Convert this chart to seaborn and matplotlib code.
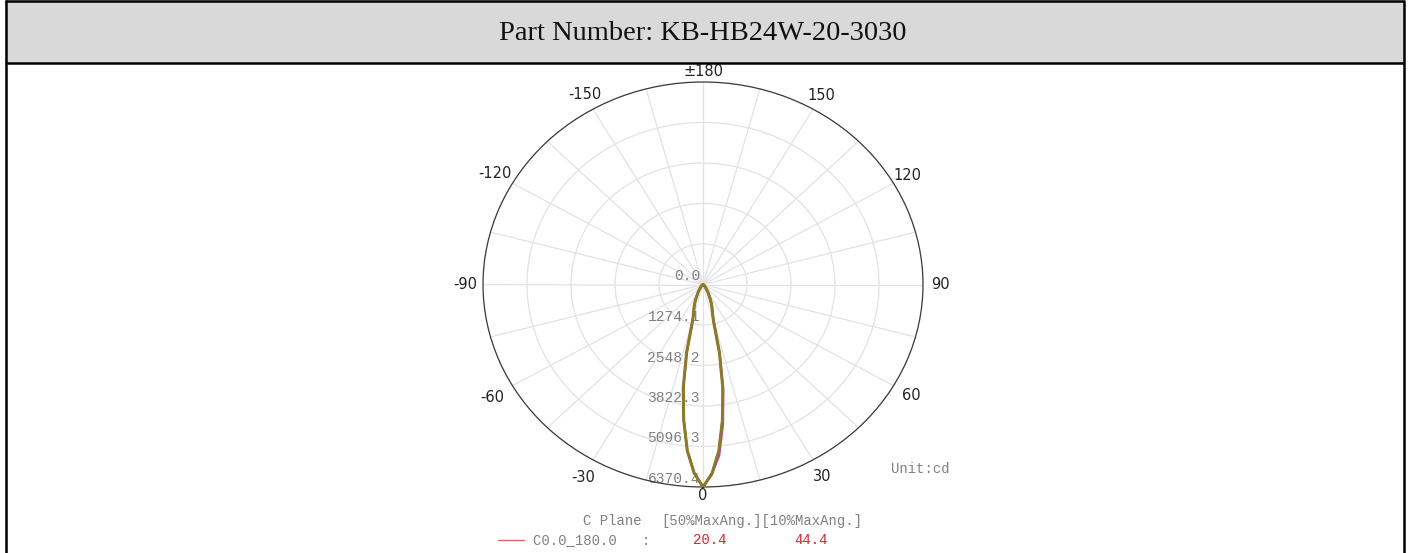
import numpy as np
import pandas as pd
import matplotlib
matplotlib.use("Agg")
import matplotlib.pyplot as plt
import matplotlib.transforms as mtransforms
from matplotlib.patches import Rectangle
from matplotlib.lines import Line2D
import seaborn as sns

# ---------------- data ----------------
title = "Part Number: KB-HB24W-20-3030"
half_angles = [0, 2.5, 5, 7.5, 10, 12.5, 15, 17.5, 20, 22.5, 25, 30, 35, 40, 45, 50, 55, 60, 70, 80, 90]
# intensity (cd) on the C0 side (positive gamma) and the C180 side (negative gamma)
c0_side = [6370.4, 5950, 5250, 4300, 3300, 2200, 1150, 900, 760, 620, 480, 290, 170, 100, 60, 40, 28, 20, 10, 5, 2]
c180_side = [6370.4, 5920, 5230, 4280, 3280, 2180, 1130, 890, 750, 610, 470, 285, 165, 98, 58, 38, 26, 18, 9, 4, 2]
# second plane (drawn magenta) and third plane (drawn olive)
c90_side = [6370.4, 5980, 5400, 4450, 3380, 2250, 1170, 910, 765, 625, 482, 292, 172, 101, 61, 41, 28, 20, 10, 5, 2]
c270_side = [6370.4, 5940, 5240, 4290, 3290, 2190, 1140, 895, 755, 615, 475, 288, 168, 99, 59, 39, 27, 19, 9, 4, 2]
c45_side = [6370.4, 5950, 5260, 4310, 3300, 2200, 1150, 900, 760, 620, 480, 290, 170, 100, 60, 40, 28, 20, 10, 5, 2]
c225_side = [6370.4, 5930, 5240, 4290, 3290, 2190, 1140, 895, 755, 615, 475, 288, 168, 99, 59, 39, 27, 19, 9, 4, 2]

ring_values = [1274.1, 2548.2, 3822.3, 5096.3, 6370.4]
ring_labels = ["0.0", "1274.1", "2548.2", "3822.3", "5096.3", "6370.4"]
theta_grid = list(range(0, 360, 15))
theta_label_angles = [0, 30, 60, 90, 120, 150, 180, 210, 240, 270, 300, 330]
theta_labels = ["0", "30", "60", "90", "120", "150", "\u00b1180", "-150", "-120", "-90", "-60", "-30"]
legend_header = ["C Plane", "[50%MaxAng.][10%MaxAng.]"]
legend_name = "C0.0_180.0   :"
beam50 = "20.4"
beam10 = "44.4"
unit_text = "Unit:cd"

# label distance from the outer circle (pixels), per label
label_pads = [9, 19, 20, 17, 16, 16, 10, 17, 20, 18, 23, 20]


def full_curve(pos_side, neg_side):
    ang = [-a for a in half_angles[::-1]] + half_angles[1:]
    val = list(neg_side[::-1]) + list(pos_side[1:])
    return pd.DataFrame({"theta": np.deg2rad(ang), "r": val})


# ---------------- figure ----------------
sns.set_style("white")
plt.rcParams["font.family"] = ["Liberation Serif", "DejaVu Sans"]

W, H = 1410, 553
fig = plt.figure(figsize=(W / 100, H / 100), dpi=100)
fig.patch.set_facecolor("white")

# header band
fig.add_artist(Rectangle((5 / W, 1 - 63 / H), 1399 / W, 62 / H, transform=fig.transFigure,
                         facecolor="#d9d9d9", edgecolor="none", zorder=0))
lw = 1.8
for (x0, y0, x1, y1) in [(5.5, 0, 5.5, H), (1403.5, 0, 1403.5, H), (5, 1.2, 1404, 1.2), (5, 62.5, 1404, 62.5)]:
    fig.add_artist(Line2D([x0 / W, x1 / W], [1 - y0 / H, 1 - y1 / H], transform=fig.transFigure,
                          color="black", lw=lw, solid_capstyle="butt"))
fig.text(703 / W, 1 - 33 / H, title, ha="center", va="center", fontsize=20.5,
         family="Liberation Serif", color="#111111")

# polar axes
cx, cy, rx, ry = 703, 284.5, 220, 202.5
ax = fig.add_axes([(cx - rx) / W, (H - cy - ry) / H, 2 * rx / W, 2 * ry / H], projection="polar")
ax.set_aspect("auto")
ax.set_theta_zero_location("S")
ax.set_theta_direction(1)
ax.set_ylim(0, ring_values[-1])
ax.set_facecolor("white")

ax.set_rgrids(ring_values, labels=[""] * len(ring_values))
ax.set_thetagrids(theta_grid, labels=[""] * len(theta_grid))
ax.grid(True, color="#e2e2e2", lw=0.9)
ax.spines["polar"].set_color("#3a3a3a")
ax.spines["polar"].set_linewidth(0.9)

# angle labels around the circle
for ang, lab, pad in zip(theta_label_angles, theta_labels, label_pads):
    t = np.deg2rad(ang)
    tr = mtransforms.offset_copy(ax.transData, fig=fig, x=np.sin(t) * pad, y=-np.cos(t) * pad, units="dots")
    ax.text(t, ring_values[-1], lab, transform=tr, ha="center", va="center", fontsize=10.5,
            family="DejaVu Sans", color="#222222", clip_on=False)

# radial labels
off = mtransforms.offset_copy(ax.transData, fig=fig, x=-3, y=1, units="dots")
for rv, lab in zip([0] + ring_values, ring_labels):
    ax.text(0, rv, lab, transform=off, ha="right", va="bottom", fontsize=10.5,
            family="Liberation Mono", color="#808080", zorder=1, clip_on=False)

# curves
sns.lineplot(data=full_curve(c0_side, c180_side), x="theta", y="r", sort=False, estimator=None,
             ax=ax, color="#e03040", lw=1.5, legend=False, zorder=3)
sns.lineplot(data=full_curve(c90_side, c270_side), x="theta", y="r", sort=False, estimator=None,
             ax=ax, color="#d030d0", lw=1.5, legend=False, zorder=4)
sns.lineplot(data=full_curve(c45_side, c225_side), x="theta", y="r", sort=False, estimator=None,
             ax=ax, color="#8a7b28", lw=2.2, legend=False, zorder=5)
ax.set_xlabel("")
ax.set_ylabel("")

# unit and legend texts
fig.text(920 / W, 1 - 469 / H, unit_text, ha="center", va="center", fontsize=10,
         family="Liberation Mono", color="#808080")
fig.text(583 / W, 1 - 521 / H, legend_header[0], ha="left", va="center", fontsize=10,
         family="Liberation Mono", color="#808080")
fig.text(661 / W, 1 - 521 / H, legend_header[1], ha="left", va="center", fontsize=10,
         family="Liberation Mono", color="#808080")
fig.add_artist(Line2D([498 / W, 524 / W], [1 - 540 / H, 1 - 540 / H], transform=fig.transFigure,
                      color="#e06666", lw=1))
fig.text(533 / W, 1 - 540 / H, legend_name, ha="left", va="center", fontsize=10,
         family="Liberation Mono", color="#808080")
fig.text(710 / W, 1 - 540 / H, beam50, ha="center", va="center", fontsize=10,
         family="Liberation Mono", color="#e02030")
fig.text(811 / W, 1 - 540 / H, beam10, ha="center", va="center", fontsize=10,
         family="Liberation Mono", color="#e02030")

fig.savefig("out.png", dpi=100)
